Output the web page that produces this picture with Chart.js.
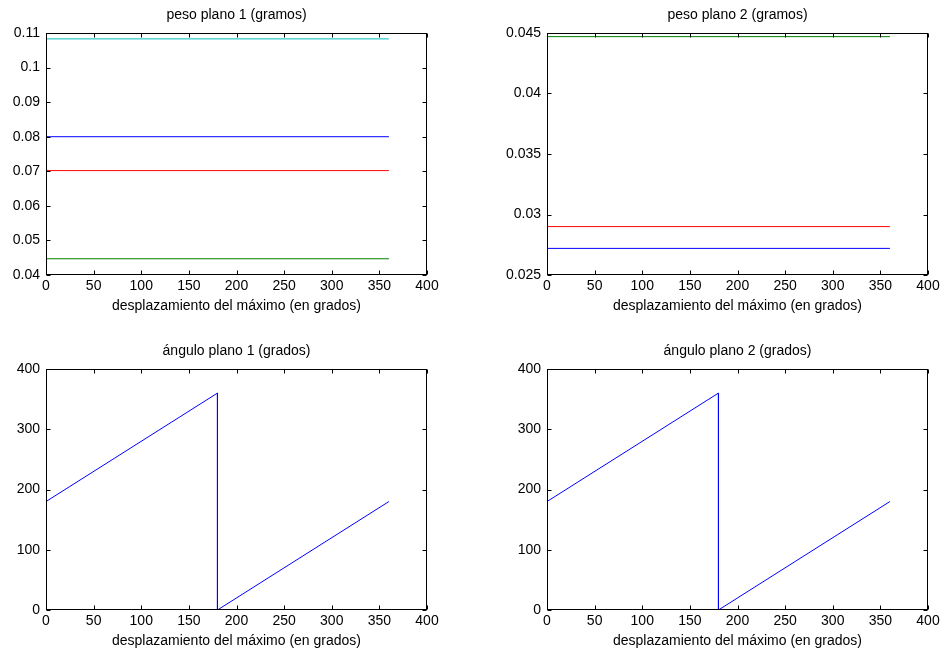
<!DOCTYPE html>
<html>
<head>
<meta charset="utf-8">
<script src="https://cdn.jsdelivr.net/npm/chart.js@4.4.0/dist/chart.umd.min.js"></script>
<style>
  html, body { margin: 0; padding: 0; background: #fff; }
  #fig { position: relative; width: 944px; height: 654px; background: #fff; overflow: hidden; }
  #fig canvas { position: absolute; }
</style>
</head>
<body>
<div id="fig">
  <canvas id="peso1" width="473" height="320" style="left:0px;top:0px"></canvas>
  <canvas id="peso2" width="474" height="320" style="left:470px;top:0px"></canvas>
  <canvas id="angulo1" width="473" height="318" style="left:0px;top:336px"></canvas>
  <canvas id="angulo2" width="474" height="318" style="left:470px;top:336px"></canvas>
</div>
<script>
"use strict";
// valores
const desplazamiento = [0, 360];
const peso1Valores = [0.0800, 0.0447, 0.0702, 0.1083];
const peso2Valores = [0.0272, 0.0447, 0.0290];
const anguloX = [0, 180, 180, 360];
const angulo1Y = [180, 360, 0, 180];
const angulo2Y = [180, 360, 0, 180];

const xTicks = [0, 50, 100, 150, 200, 250, 300, 350, 400];
const peso1Ticks = [0.04, 0.05, 0.06, 0.07, 0.08, 0.09, 0.1, 0.11];
const peso2Ticks = [0.025, 0.03, 0.035, 0.04, 0.045];
const anguloTicks = [0, 100, 200, 300, 400];

// orden de colores por defecto de matlab
const coloresMatlab = ["rgb(0,0,255)", "rgb(0,128,0)", "rgb(255,0,0)", "rgb(0,191,191)"];

const FAMILY = "'Liberation Sans', Arial, Helvetica, sans-serif";
const XLABEL = "desplazamiento del máximo (en grados)";

// caja con marcas hacia dentro, estilo matlab
const matlabBox = {
  id: "matlabBox",
  afterDatasetsDraw(chart) {
    const { ctx, chartArea: a, scales: { x, y } } = chart;
    const L = Math.round(a.left) + 0.5;
    const R = Math.round(a.right) - 0.5;
    const T = Math.round(a.top) + 0.5;
    const B = Math.round(a.bottom) - 0.5;
    const len = 4;
    ctx.save();
    ctx.strokeStyle = "#000";
    ctx.lineWidth = 1;
    ctx.strokeRect(L, T, R - L, B - T);
    ctx.beginPath();
    x.ticks.forEach((t) => {
      const px = Math.round(x.getPixelForValue(t.value)) + 0.5;
      ctx.moveTo(px, B); ctx.lineTo(px, B - len);
      ctx.moveTo(px, T); ctx.lineTo(px, T + len);
    });
    y.ticks.forEach((t) => {
      const py = Math.round(y.getPixelForValue(t.value)) + 0.5;
      ctx.moveTo(L, py); ctx.lineTo(L + len, py);
      ctx.moveTo(R, py); ctx.lineTo(R - len, py);
    });
    ctx.stroke();
    ctx.restore();
  },
};

const lineaConstante = (valor, i) => ({
  data: desplazamiento.map((x) => ({ x, y: valor })),
  borderColor: coloresMatlab[i],
  borderWidth: 1,
  pointRadius: 0,
});

const lineaAngulo = (ys) => [{
  data: anguloX.map((x, i) => ({ x, y: ys[i] })),
  borderColor: coloresMatlab[0],
  borderWidth: 1,
  pointRadius: 0,
}];

const subplot = (id, titulo, datasets, yTicks, yWidth, padding) => {
  return new Chart(document.getElementById(id), {
    type: "line",
    data: { datasets },
    options: {
      responsive: false,
      animation: false,
      layout: { padding },
      plugins: {
        legend: { display: false },
        tooltip: { enabled: false },
        title: {
          display: true,
          text: titulo,
          fullSize: false,
          color: "#000",
          font: { family: FAMILY, size: 14, weight: "normal", lineHeight: 1 },
          padding: { top: 8, bottom: 11 },
        },
      },
      scales: {
        x: {
          type: "linear",
          min: xTicks[0],
          max: xTicks[xTicks.length - 1],
          afterBuildTicks: (s) => { s.ticks = xTicks.map((v) => ({ value: v })); },
          afterFit: (s) => { s.height = 40; },
          grid: { display: false, drawTicks: false },
          border: { display: false },
          ticks: {
            color: "#000",
            font: { family: FAMILY, size: 14 },
            padding: 3,
            maxRotation: 0,
            autoSkip: false,
            callback: (v) => String(v),
          },
          title: {
            display: true,
            text: XLABEL,
            color: "#000",
            font: { family: FAMILY, size: 14 },
            padding: 0,
          },
        },
        y: {
          type: "linear",
          min: yTicks[0],
          max: yTicks[yTicks.length - 1],
          afterBuildTicks: (s) => { s.ticks = yTicks.map((v) => ({ value: v })); },
          afterFit: (s) => { s.width = yWidth; },
          grid: { display: false, drawTicks: false },
          border: { display: false },
          ticks: {
            color: "#000",
            font: { family: FAMILY, size: 14 },
            padding: 6,
            autoSkip: false,
            callback: (v) => String(v),
          },
        },
      },
    },
    plugins: [matlabBox],
  });
};

subplot("peso1", "peso plano 1 (gramos)", peso1Valores.map(lineaConstante), peso1Ticks, 46,
  { left: 0, right: 46, top: 0, bottom: 5 });
subplot("peso2", "peso plano 2 (gramos)", peso2Valores.map(lineaConstante), peso2Ticks, 77,
  { left: 0, right: 16, top: 0, bottom: 5 });
subplot("angulo1", "ángulo plano 1 (grados)", lineaAngulo(angulo1Y), anguloTicks, 46,
  { left: 0, right: 46, top: 0, bottom: 4 });
subplot("angulo2", "ángulo plano 2 (grados)", lineaAngulo(angulo2Y), anguloTicks, 77,
  { left: 0, right: 16, top: 0, bottom: 4 });
</script>
</body>
</html>
